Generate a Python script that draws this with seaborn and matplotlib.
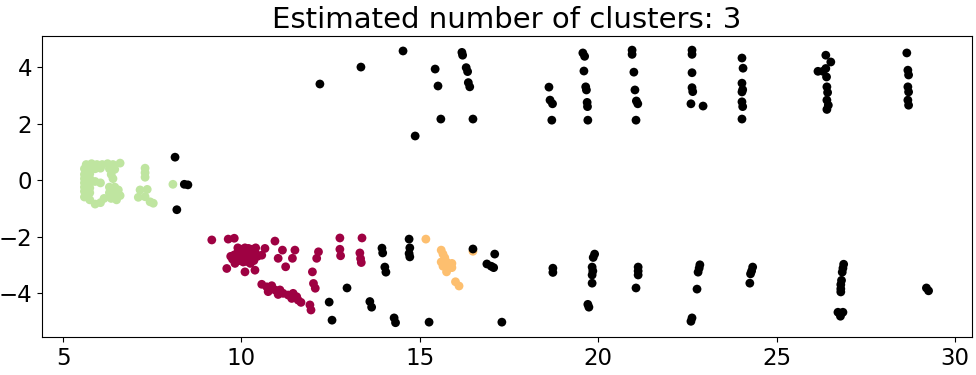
import numpy as np
import pandas as pd
import matplotlib
matplotlib.use("Agg")
import matplotlib.pyplot as plt
import seaborn as sns

sns.set_style("ticks", {"axes.edgecolor": "black", "xtick.color": "black",
                        "ytick.color": "black", "text.color": "black"})
plt.rcParams["font.family"] = ["DejaVu Sans"]

# cluster 0 (dark red)
red_x = [9.17, 9.63, 9.80, 9.59, 9.82, 10.10, 10.38, 10.66, 10.57, 9.70, 9.80, 9.75,
         9.90, 10.00, 10.10, 10.20, 10.30, 10.40, 9.90, 10.00, 10.10, 10.20, 10.30, 10.40,
         9.95, 10.05, 10.15, 10.25, 10.35, 10.45, 9.95, 10.05, 10.15, 10.25, 10.35,
         10.94, 11.15, 11.03, 11.50, 11.43, 11.24, 12.16, 12.11, 11.99, 12.02, 12.07,
         10.57, 10.71, 10.85, 10.94, 11.08, 11.17, 11.31, 11.45, 11.55, 11.59, 11.67,
         10.75, 11.03, 11.41, 11.92, 11.95,
         12.76, 12.76, 12.78, 13.38, 13.32, 13.34, 13.36]
red_y = [-2.12, -2.09, -2.06, -3.13, -2.95, -3.25, -3.19, -2.42, -2.66, -2.70, -2.65, -2.80,
         -2.40, -2.45, -2.40, -2.42, -2.45, -2.40, -2.55, -2.60, -2.55, -2.58, -2.55, -2.60,
         -2.70, -2.72, -2.70, -2.75, -2.72, -2.70, -2.85, -2.90, -2.88, -2.95, -2.85,
         -2.16, -2.48, -2.77, -2.48, -2.77, -3.07, -2.54, -2.77, -3.25, -3.66, -3.83,
         -3.69, -3.78, -3.74, -3.89, -3.89, -4.01, -4.07, -4.01, -4.13, -4.25, -4.33,
         -3.95, -4.05, -4.19, -4.42, -4.60,
         -2.05, -2.45, -2.68, -2.05, -2.58, -2.78, -2.92]

# cluster 1 (orange)
orange_x = [15.17, 15.60, 15.65, 15.70, 15.60, 15.75, 15.90, 15.65, 15.80, 15.75, 15.90,
            16.00, 16.10, 16.49]
orange_y = [-2.09, -2.48, -2.62, -2.75, -2.90, -2.90, -2.95, -3.05, -3.10, -3.25, -3.10,
            -3.60, -3.75, -2.52]

# cluster 2 (light green)
green_x = [5.65, 5.80, 5.95, 6.10, 6.25, 6.40, 5.60, 5.75, 5.90, 6.05, 6.30, 6.45, 6.60,
           5.60, 5.75, 5.60, 5.75, 5.60, 5.75, 5.60, 5.75, 5.60, 5.75, 5.60, 5.75,
           5.90, 6.05, 5.90, 6.05, 6.15,
           6.30, 6.45, 6.55, 6.30, 6.45, 6.60, 6.35, 6.50, 6.35, 6.40,
           7.30, 7.30, 7.30, 7.16, 7.36, 7.11, 7.30, 7.44, 7.53, 8.08]
green_y = [0.55, 0.58, 0.55, 0.55, 0.58, 0.55, 0.40, 0.38, 0.40, 0.42, 0.40, 0.38, 0.60,
           0.20, 0.22, 0.05, 0.05, -0.10, -0.12, -0.25, -0.28, -0.40, -0.45, -0.60, -0.70,
           -0.05, -0.10, -0.85, -0.80, -0.65,
           -0.25, -0.25, -0.35, -0.45, -0.50, -0.55, -0.65, -0.70, 0.20, 0.05,
           0.42, 0.26, 0.10, -0.35, -0.33, -0.61, -0.59, -0.77, -0.82, -0.15]

# noise (black)
noise_x = [8.14, 8.40, 8.50, 8.19,
           12.20, 13.35, 14.53, 15.43, 15.51, 16.18, 16.20, 16.30, 16.34, 16.36, 16.40,
           15.59, 16.49, 14.87,
           18.62, 18.65, 18.72, 18.70,
           19.57, 19.62, 19.60, 19.65, 19.67, 19.69, 19.70, 19.71,
           20.95, 20.95, 21.00, 21.03, 21.07, 21.11, 21.06,
           22.63, 22.63, 22.63, 22.63, 22.65, 22.60, 22.94,
           24.03, 24.06, 24.03, 24.05, 24.03, 24.03, 24.05, 24.03,
           26.38, 26.52, 26.16, 26.30, 26.38, 26.40, 26.41, 26.43, 26.41, 26.41, 26.45,
           28.65, 28.68, 28.70, 28.68, 28.70, 28.68, 28.70,
           13.94, 13.96, 14.02, 14.05, 12.96, 12.46, 12.54, 13.60, 13.65, 14.28, 14.32,
           15.26, 14.70, 14.72, 14.70, 14.72, 16.49, 17.10, 16.88, 17.00, 17.07, 17.30,
           18.73, 18.73, 19.90, 19.86, 19.83, 19.85, 19.83, 19.83, 19.71, 19.74,
           21.12, 21.12, 21.12, 21.06,
           22.85, 22.83, 22.80, 22.77, 22.63, 22.60,
           24.33, 24.30, 24.27, 24.25,
           26.88, 26.86, 26.84, 26.82, 26.80, 26.80, 26.80, 26.72, 26.86, 26.79,
           29.20, 29.26]
noise_y = [0.81, -0.15, -0.17, -1.05,
           3.40, 4.00, 4.57, 3.93, 3.33, 4.52, 4.42, 3.98, 3.84, 3.45, 3.30,
           2.16, 2.16, 1.56,
           3.29, 2.83, 2.70, 2.12,
           4.50, 4.38, 3.86, 3.30, 3.19, 2.75, 2.60, 2.12,
           4.60, 4.45, 3.82, 3.19, 2.80, 2.70, 2.12,
           4.60, 4.45, 3.80, 3.27, 3.13, 2.70, 2.62,
           4.32, 3.96, 3.43, 3.20, 3.12, 2.77, 2.60, 2.16,
           4.42, 4.18, 3.85, 3.85, 3.95, 3.65, 3.30, 3.10, 2.83, 2.50, 2.65,
           4.50, 3.89, 3.72, 3.30, 3.12, 2.83, 2.65,
           -2.41, -2.58, -3.08, -3.26, -3.82, -4.32, -4.96, -4.30, -4.50, -4.88, -5.05,
           -5.03, -2.09, -2.40, -2.60, -2.72, -2.44, -2.62, -2.97, -3.05, -3.10, -5.03,
           -3.12, -3.27, -2.62, -2.74, -3.08, -3.22, -3.36, -3.65, -4.40, -4.50,
           -3.08, -3.22, -3.36, -3.82,
           -3.00, -3.12, -3.26, -3.86, -4.88, -5.00,
           -3.08, -3.22, -3.32, -3.65,
           -2.98, -3.12, -3.26, -3.55, -3.70, -3.85, -3.96, -4.68, -4.68, -4.82,
           -3.82, -3.92]

n_clusters = 3

df = pd.concat([
    pd.DataFrame({"x": red_x, "y": red_y, "label": 0}),
    pd.DataFrame({"x": orange_x, "y": orange_y, "label": 1}),
    pd.DataFrame({"x": green_x, "y": green_y, "label": 2}),
    pd.DataFrame({"x": noise_x, "y": noise_y, "label": -1}),
], ignore_index=True)

cols = [plt.cm.Spectral(v) for v in np.linspace(0, 1, 4)]
palette = {0: cols[0], 1: cols[1], 2: cols[2], -1: (0, 0, 0, 1)}

fig, ax = plt.subplots(figsize=(9.76, 3.75), dpi=100)
sns.scatterplot(data=df, x="x", y="y", hue="label", palette=palette, s=40,
                linewidth=0, legend=False, ax=ax)

ax.set_xlim(4.41, 30.48)
ax.set_ylim(-5.56, 5.10)
ax.set_xticks([5, 10, 15, 20, 25, 30])
ax.set_yticks([-4, -2, 0, 2, 4])
ax.set_xlabel("")
ax.set_ylabel("")
ax.tick_params(labelsize=16.5, length=3.5, width=0.8, labelcolor="black")
for sp in ax.spines.values():
    sp.set_linewidth(0.8)
ax.set_title(f"Estimated number of clusters: {n_clusters}", fontsize=21, color="black")

fig.subplots_adjust(left=0.043, right=0.996, top=0.904, bottom=0.101)
fig.savefig("out.png", dpi=100)
